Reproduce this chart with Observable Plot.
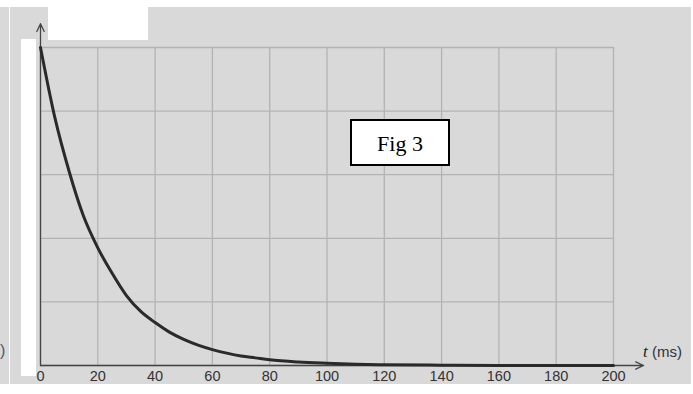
<!DOCTYPE html>
<html><head><meta charset="utf-8">
<script src="https://cdn.jsdelivr.net/npm/d3@7"></script>
<script src="https://cdn.jsdelivr.net/npm/@observablehq/plot@0.6"></script>
<style>
html,body{margin:0;padding:0;background:#fff;}
#wrap{position:relative;width:693px;height:394px;overflow:hidden;background:#fff;font-family:"Liberation Sans",Arial,sans-serif;}
.abs{position:absolute;}
#panel{left:0;top:7px;width:691px;height:377px;background:#d9d9d9;}
#vline{left:9px;top:7px;width:1px;height:377px;background:#fff;}
#strip{left:21px;top:39px;width:15px;height:337px;background:#fff;}
#topbox{left:48px;top:7px;width:100px;height:33px;background:#fff;}
#paren{left:0px;top:342px;font-size:16px;color:#4a5a78;}
#fig{left:350px;top:119px;width:96px;height:43px;border:2px solid #000;background:#fff;
 font-family:"Liberation Serif","Times New Roman",serif;font-size:22px;color:#000;
 display:flex;align-items:center;justify-content:center;box-sizing:content-box;}
#chart{left:0;top:0;}
#tlabel{left:643px;top:342px;font-size:15px;color:#333;white-space:nowrap;}
</style></head>
<body>
<div id="wrap">
 <div id="panel" class="abs"></div>
 <div id="vline" class="abs"></div>
 <div id="paren" class="abs">)</div>
 <div id="chart" class="abs"></div>
 <div id="strip" class="abs"></div>
 <div id="topbox" class="abs"></div>
 <div id="fig" class="abs"><span style="position:relative;top:1px">Fig 3</span></div>
 <div id="tlabel" class="abs"><i style="font-family:'Liberation Serif',serif;font-size:17px;color:#222">t</i>&nbsp;(ms)</div>
</div>
<script>
// time (ms) and normalized value
const times  = [0, 5, 10, 15, 20, 25, 30, 35, 40, 45, 50, 55, 60, 65, 70, 75, 80, 90, 100, 110, 120, 140, 160, 180, 200];
const values = [1.0, 0.78, 0.61, 0.47, 0.37, 0.29, 0.22, 0.17, 0.135, 0.105, 0.082, 0.064, 0.05, 0.039, 0.03, 0.024, 0.018, 0.011, 0.007, 0.004, 0.0025, 0.001, 0, 0, 0];
const xTicks = [0, 20, 40, 60, 80, 100, 120, 140, 160, 180, 200];
const yTicks = [0, 0.2, 0.4, 0.6, 0.8, 1.0];
const axisEnds = {xEnd: 210.5, yEnd: 1.075};

const data = times.map((t, i) => ({t, v: values[i]}));

const chart = Plot.plot({
  width: 693, height: 394,
  marginLeft: 40, marginRight: 80, marginTop: 47, marginBottom: 29,
  style: {background: "transparent", fontFamily: "'Liberation Sans', Arial, sans-serif", fontSize: "14.5px", color: "#333"},
  x: {domain: [0, 200], ticks: xTicks, tickSize: 0, tickPadding: 5, label: null},
  y: {domain: [0, 1], axis: null},
  marks: [
    Plot.ruleX(xTicks, {stroke: "#b3b3b3", strokeWidth: 1.3}),
    Plot.ruleY(yTicks, {x1: 0, x2: 200, stroke: "#b3b3b3", strokeWidth: 1.3}),
    Plot.arrow([{x1: 0, y1: 0, x2: 0, y2: axisEnds.yEnd}], {x1: "x1", y1: "y1", x2: "x2", y2: "y2", stroke: "#444", strokeWidth: 1.3, headLength: 10, headAngle: 50}),
    Plot.arrow([{x1: 0, y1: 0, x2: axisEnds.xEnd, y2: 0}], {x1: "x1", y1: "y1", x2: "x2", y2: "y2", stroke: "#444", strokeWidth: 1.3, headLength: 10, headAngle: 50}),
    Plot.line(data, {x: "t", y: "v", stroke: "#2a2a2a", strokeWidth: 3, curve: "monotone-x"})
  ]
});
document.getElementById("chart").appendChild(chart);
</script>
</body></html>
